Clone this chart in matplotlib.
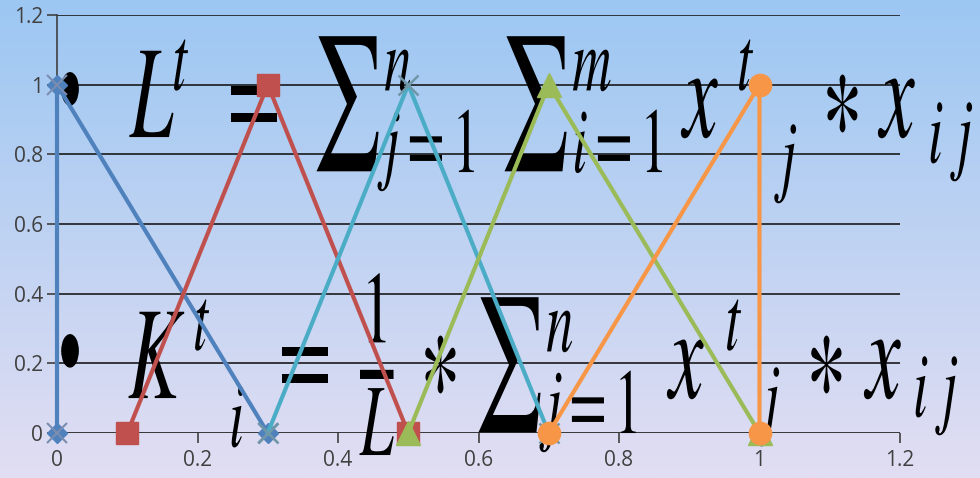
import matplotlib.pyplot as plt
import matplotlib.patheffects as pe
from matplotlib.transforms import Affine2D
import numpy as np

# data
blue_x = [0, 0, 0.3]
blue_y = [0, 1, 0]
red_x = [0.1, 0.3, 0.5]
red_y = [0, 1, 0]
teal_x = [0.3, 0.5, 0.7]
teal_y = [0, 1, 0]
green_x = [0.5, 0.7, 1.0]
green_y = [0, 1, 0]
orange_x = [0.7, 1.0, 1.0]
orange_y = [0, 1, 0]

xticks = [0, 0.2, 0.4, 0.6, 0.8, 1, 1.2]
yticks = [0, 0.2, 0.4, 0.6, 0.8, 1, 1.2]
xlabels = ['0', '0.2', '0.4', '0.6', '0.8', '1', '1.2']
ylabels = ['0', '0.2', '0.4', '0.6', '0.8', '1', '1.2']

# formula pieces: (left px, baseline px from top, text, size)
BIG, SMALL = 56, 39
formula1 = [(130, 138, r'$L$', BIG), (172, 90, r'$t$', SMALL),
            (216, 138, r'$=$', BIG),
            (312, 138, r'${\sum}_{j=1}^{n}$', BIG),
            (500, 138, r'${\sum}_{i=1}^{m}$', BIG),
            (683, 138, r'$x$', BIG), (737, 90, r'$t$', SMALL), (781, 185, r'$j$', SMALL),
            (822, 138, r'$\ast$', BIG),
            (880, 138, r'$x$', BIG), (928, 163, r'$i$', SMALL), (957, 163, r'$j$', SMALL)]
formula2 = [(128, 399, r'$K$', BIG), (193, 350, r'$t$', SMALL), (229, 447, r'$i$', SMALL),
            (267, 399, r'$=$', BIG),
            (360, 399, r'$\frac{1}{L}$', 62),
            (420, 399, r'$\ast$', BIG),
            (474, 399, r'${\sum}_{j=1}^{n}$', BIG),
            (669, 399, r'$x$', BIG), (725, 350, r'$t$', SMALL), (764, 428, r'$j$', SMALL),
            (806, 399, r'$\ast$', BIG),
            (866, 399, r'$x$', BIG), (913, 417, r'$i$', SMALL), (942, 417, r'$j$', SMALL)]
bullets = [(52, 132), (52, 394)]


class Stretch(pe.AbstractPathEffect):
    # the text in the picture is squeezed sideways, so stretch it up
    def __init__(self, sy):
        super().__init__()
        self.sy = sy

    def draw_path(self, renderer, gc, tpath, affine, rgbFace=None):
        renderer.draw_path(gc, tpath, Affine2D().scale(1, self.sy) + affine, rgbFace)


plt.rcParams['mathtext.fontset'] = 'stix'
plt.rcParams['font.family'] = ['Open Sans', 'DejaVu Sans']

W, H = 980, 478
fig = plt.figure(figsize=(W / 100, H / 100), dpi=100)

# gradient background
bg = fig.add_axes([0, 0, 1, 1], zorder=-10)
top = np.array([156, 199, 242]) / 255
bot = np.array([226, 222, 243]) / 255
t = np.linspace(0, 1, 256)[:, None]
grad = top * (1 - t) + bot * t
bg.imshow(grad[:, None, :], aspect='auto', extent=[0, 1, 0, 1])
bg.axis('off')

ax = fig.add_axes([57 / W, 1 - 433 / H, 843 / W, 418 / H])
ax.patch.set_alpha(0)
ax.set_xlim(0, 1.2)
ax.set_ylim(0, 1.2)

ax.spines['right'].set_visible(False)
ax.spines['top'].set_visible(False)
ax.spines['bottom'].set_visible(False)
ax.spines['left'].set_color('#404040')
ax.spines['left'].set_linewidth(1.2)

for y in yticks:
    ax.axhline(y, color='#1a1a1a', linewidth=1.2, zorder=1)

ax.set_xticks(xticks)
ax.set_yticks(yticks)
ax.set_xticklabels(xlabels, fontsize=15, color='#404040')
ax.set_yticklabels(ylabels, fontsize=15, color='#404040')
ax.tick_params(axis='both', colors='#404040', length=7, width=1.2, direction='out')
ax.tick_params(axis='x', pad=5)
ax.tick_params(axis='y', pad=3)

lw = 3
ax.plot(blue_x, blue_y, color='#4f81bd', linewidth=lw, marker='D', markersize=10,
        zorder=3, clip_on=False)
ax.plot(blue_x, blue_y, linestyle='none', marker='x', markersize=15, markeredgewidth=1.5,
        markeredgecolor='#7a8db0', zorder=3, clip_on=False)
ax.plot(red_x, red_y, color='#c0504d', linewidth=lw, marker='s', markersize=16,
        zorder=3, clip_on=False)
ax.plot(teal_x, teal_y, color='#4bacc6', linewidth=lw, marker='x', markersize=15,
        markeredgewidth=1.8, markeredgecolor='#6f97a8', zorder=3, clip_on=False)
ax.plot(green_x, green_y, color='#9bbb59', linewidth=lw, marker='^', markersize=17,
        zorder=3, clip_on=False)
ax.plot(orange_x, orange_y, color='#f79646', linewidth=lw, marker='o', markersize=16,
        zorder=3, clip_on=False)

# formulas, drawn behind the series
stretch = [Stretch(1.7)]
for bx, by in bullets:
    ax.text(bx / W, 1 - by / H, '•', fontsize=44, family='DejaVu Sans', transform=fig.transFigure,
            va='baseline', clip_on=False, zorder=2, path_effects=[Stretch(1.9)])
for x, y, s, size in formula1 + formula2:
    ax.text(x / W, 1 - y / H, s, fontsize=size, transform=fig.transFigure,
            va='baseline', ha='left', clip_on=False, zorder=2, path_effects=stretch)

fig.savefig('out.png', dpi=100)
